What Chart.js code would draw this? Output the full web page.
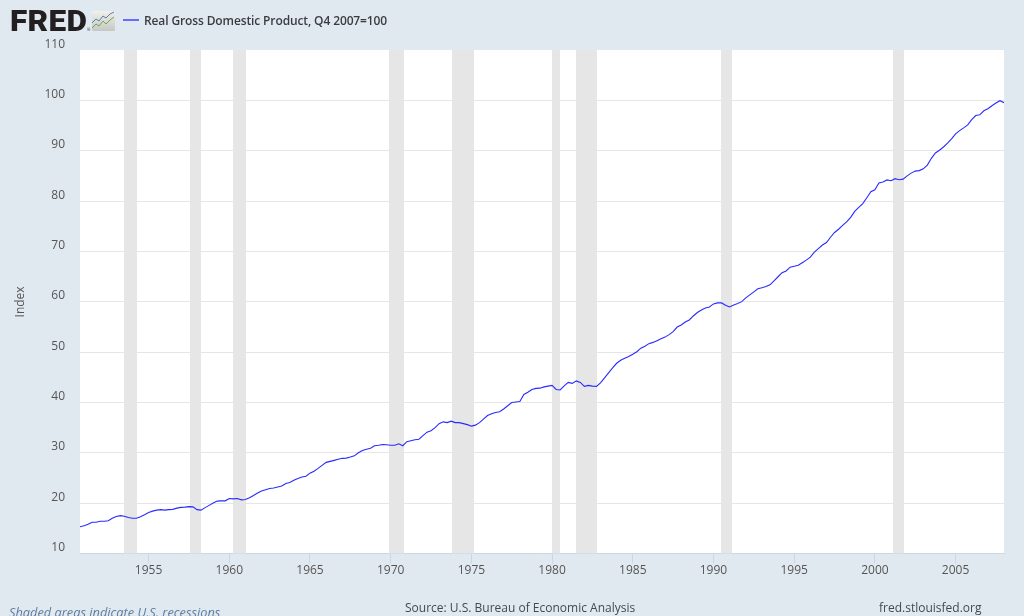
<!DOCTYPE html>
<html>
<head>
<meta charset="utf-8">
<title>Real Gross Domestic Product</title>
<script src="https://cdn.jsdelivr.net/npm/chart.js@4/dist/chart.umd.min.js"></script>
<style>
html, body { margin: 0; padding: 0; width: 1024px; height: 616px; overflow: hidden; background: #e1e9f0; }
body { position: relative; font-family: "Open Sans", sans-serif; }
canvas { position: absolute; left: 0; top: 0; }
.txt { position: absolute; white-space: nowrap; }
#logo { left: 10px; top: 3px; font: 900 29px/36px Roboto, sans-serif; color: #231f20; letter-spacing: 0.3px; transform: scaleX(1.09); transform-origin: left center; }
#reg { left: 87px; top: 27px; font: 400 4px/5px "Open Sans", sans-serif; color: #231f20; }
#icon { position: absolute; left: 92px; top: 11px; }
#swatch { position: absolute; left: 123px; top: 19px; width: 16px; height: 2px; background: #6a6aff; }
#legend { left: 144px; top: 12px; font: 600 12px/17px "Open Sans", sans-serif; color: #3c3c40; letter-spacing: -0.12px; }
#shaded { left: 9px; top: 604px; font: italic 400 12.8px/17px "Open Sans", sans-serif; color: #5f7c9f; }
#source { left: 405px; top: 599px; font: 400 12px/18px "Open Sans", sans-serif; color: #3f4a55; }
#site { left: 879px; top: 599px; font: 400 12px/18px "Open Sans", sans-serif; color: #3f4a55; }
</style>
</head>
<body>
<canvas id="gdpChart" width="1024" height="616"></canvas>
<div class="txt" id="logo">FRED</div>
<div class="txt" id="reg">®</div>
<svg id="icon" width="23" height="20" viewBox="0 0 23 20">
  <defs><linearGradient id="bg" x1="0" y1="0" x2="0" y2="1"><stop offset="0" stop-color="#f0f0ec"/><stop offset="1" stop-color="#c4c8c4"/></linearGradient></defs>
  <rect width="23" height="20" rx="1.5" fill="url(#bg)"/>
  <polyline points="0,12 4,8 7,10 11,5 14,7 18,3 22,1" fill="none" stroke="#5f7f9f" stroke-width="1"/>
  <polyline points="0,17 4,13 7,15 11,10 14,13 18,9 22,6" fill="none" stroke="#7d9f4f" stroke-width="1"/>
</svg>
<div id="swatch"></div>
<div class="txt" id="legend">Real Gross Domestic Product, Q4 2007=100</div>
<div class="txt" id="shaded">Shaded areas indicate U.S. recessions</div>
<div class="txt" id="source">Source: U.S. Bureau of Economic Analysis</div>
<div class="txt" id="site">fred.stlouisfed.org</div>
<script>
// quarterly index values, Q4 1950 to Q1 2008
const gdp1950s = [15.3, 15.5, 15.8, 16.2, 16.2, 16.4, 16.4, 16.5, 17.0, 17.35, 17.5, 17.4, 17.15, 17.0, 17.0, 17.3,
  17.7, 18.15, 18.4, 18.6, 18.7, 18.6, 18.7, 18.75, 19.0, 19.15, 19.2, 19.3, 19.25, 18.7, 18.6, 19.1, 19.55, 20, 20.4, 20.45, 20.45];
const gdp1960s = [20.9, 20.85, 20.9, 20.65, 20.7, 21.05, 21.5, 22, 22.4, 22.65, 22.9, 23, 23.2, 23.4, 23.9, 24.1,
  24.55, 24.9, 25.2, 25.35, 25.95, 26.35, 26.9, 27.5, 28.1, 28.3, 28.5, 28.7, 28.9, 28.95, 29.15, 29.4,
  30, 30.45, 30.7, 30.9, 31.4, 31.5, 31.65, 31.6];
const gdp1970s = [31.5, 31.5, 31.8, 31.4, 32.2, 32.4, 32.6, 32.7, 33.4, 34.1, 34.4, 35.0, 35.8, 36.15, 36.0, 36.3,
  36.0, 36.0, 35.8, 35.6, 35.3, 35.5, 36, 36.7, 37.4, 37.75, 38, 38.15, 38.7, 39.35, 40, 40.1,
  40.2, 41.6, 42.05, 42.6, 42.8, 42.85, 43.1, 43.25];
const gdp1980s = [43.4, 42.6, 42.5, 43.3, 44, 43.8, 44.3, 44, 43.2, 43.4, 43.25, 43.2, 43.9, 44.9, 45.9, 46.9,
  47.8, 48.4, 48.8, 49.15, 49.6, 50.1, 50.8, 51.2, 51.7, 51.95, 52.3, 52.65, 53, 53.5, 54.1, 55,
  55.4, 56, 56.4, 57.2, 57.9, 58.4, 58.8, 59];
const gdp1990s = [59.6, 59.8, 59.8, 59.35, 59, 59.4, 59.7, 60.05, 60.8, 61.4, 62, 62.6, 62.8, 63.05, 63.4, 64.2,
  65, 65.8, 66.15, 66.9, 67.1, 67.3, 67.8, 68.3, 68.9, 69.9, 70.6, 71.3, 71.8, 72.85, 73.8, 74.45,
  75.2, 75.9, 76.8, 78, 78.8, 79.55, 80.7, 81.9];
const gdp2000s = [82.3, 83.65, 83.85, 84.25, 84.1, 84.5, 84.3, 84.4, 85.05, 85.6, 86, 86.1, 86.45, 87.2, 88.55, 89.6,
  90.15, 90.8, 91.55, 92.4, 93.4, 94.05, 94.6, 95.2, 96.25, 97.05, 97.2, 98, 98.4, 99, 99.55, 100, 99.6];

const firstQuarter = 1950.75;
const tickYears = [1955, 1960, 1965, 1970, 1975, 1980, 1985, 1990, 1995, 2000, 2005];
const recessionStart = [1953.5, 1957.58, 1960.25, 1969.92, 1973.83, 1980.0, 1981.5, 1990.5, 2001.17];
const recessionEnd = [1954.33, 1958.25, 1961.08, 1970.83, 1975.17, 1980.5, 1982.83, 1991.17, 2001.83];

const gdpValues = [].concat(gdp1950s, gdp1960s, gdp1970s, gdp1980s, gdp1990s, gdp2000s);
const points = gdpValues.map((v, i) => ({ x: firstQuarter + i / 4, y: v }));

// 白い背景と景気後退の帯
const bandsPlugin = {
  id: 'bands',
  beforeDraw(chart) {
    const a = chart.chartArea;
    const top = Math.floor(a.top);
    chart.ctx.save();
    chart.ctx.fillStyle = '#ffffff';
    chart.ctx.fillRect(a.left, top, a.right - a.left, a.bottom - top);
    chart.ctx.restore();
  },
  beforeDatasetsDraw(chart) {
    const a = chart.chartArea;
    const xs = chart.scales.x;
    const top = Math.floor(a.top);
    chart.ctx.save();
    chart.ctx.fillStyle = '#e6e6e6';
    recessionStart.forEach((s, i) => {
      const x0 = Math.floor(xs.getPixelForValue(s));
      const x1 = Math.floor(xs.getPixelForValue(recessionEnd[i]));
      chart.ctx.fillRect(x0, top, x1 - x0, a.bottom - top);
    });
    chart.ctx.restore();
  }
};

new Chart(document.getElementById('gdpChart').getContext('2d'), {
  type: 'line',
  plugins: [bandsPlugin],
  data: {
    datasets: [{
      label: 'Real Gross Domestic Product, Q4 2007=100',
      data: points,
      borderColor: '#2a2aff',
      borderWidth: 1.1,
      pointRadius: 0,
      tension: 0,
      fill: false
    }]
  },
  options: {
    responsive: false,
    animation: false,
    layout: { padding: { top: 50.4, right: 20, left: 0, bottom: 0 } },
    plugins: { legend: { display: false }, tooltip: { enabled: false } },
    scales: {
      x: {
        type: 'linear',
        min: firstQuarter,
        max: 2008,
        afterBuildTicks(axis) { axis.ticks = tickYears.map(y => ({ value: y })); },
        afterFit(axis) { axis.height = 62.6; },
        grid: { drawOnChartArea: false, drawTicks: true, tickLength: 10, tickColor: '#ccd6eb' },
        border: { color: '#ccd6eb', width: 1 },
        ticks: {
          maxRotation: 0,
          autoSkip: false,
          padding: 0,
          color: '#555555',
          font: { family: '"Open Sans"', size: 12 },
          callback: v => String(v)
        }
      },
      y: {
        min: 10,
        max: 110,
        afterFit(axis) { axis.width = 80; },
        grid: {
          color: c => (c.tick.value === 110 || c.tick.value === 10) ? 'transparent' : '#e6e6e6',
          lineWidth: 1,
          drawTicks: false
        },
        border: { display: false },
        ticks: {
          stepSize: 10,
          padding: 15,
          labelOffset: -6,
          color: '#555555',
          font: { family: '"Open Sans"', size: 12 }
        },
        title: {
          display: true,
          text: 'Index',
          color: '#555555',
          font: { family: '"Open Sans"', size: 12 },
          padding: { top: 13, bottom: 0 }
        }
      }
    }
  }
});
</script>
</body>
</html>
